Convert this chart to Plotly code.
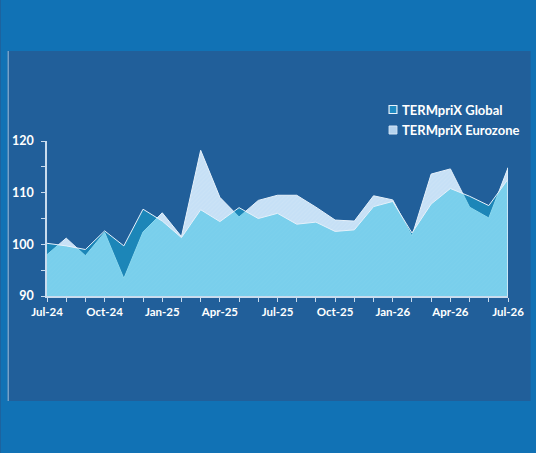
import plotly.graph_objects as go

months = ["Jul-24", "Aug-24", "Sep-24", "Oct-24", "Nov-24", "Dec-24",
          "Jan-25", "Feb-25", "Mar-25", "Apr-25", "May-25", "Jun-25",
          "Jul-25", "Aug-25", "Sep-25", "Oct-25", "Nov-25", "Dec-25",
          "Jan-26", "Feb-26", "Mar-26", "Apr-26", "May-26", "Jun-26",
          "Jul-26"]
global_vals = [100.2, 99.7, 99.0, 102.6, 99.7, 106.8,
               104.5, 101.3, 106.7, 104.4, 107.1, 105.0,
               106.0, 103.9, 104.3, 102.5, 102.8, 107.3,
               108.3, 102.2, 107.8, 110.8, 109.3, 107.5,
               112.6]
euro_vals = [98.0, 101.2, 97.8, 102.3, 93.4, 102.4,
             106.1, 101.5, 118.2, 109.1, 105.3, 108.5,
             109.5, 109.5, 107.2, 104.7, 104.5, 109.4,
             108.6, 101.6, 113.6, 114.6, 107.2, 105.1,
             114.8]
y_ticks = [90, 100, 110, 120]
y_minor = [95, 105, 115]
series_names = ["TERMpriX Global", "TERMpriX Eurozone"]

BAND = "#1172b5"
PANEL = "#215f9a"
PALE = "#c6e0f6"
GLOBAL_FILL = "rgba(22,184,222,0.44)"
EDGE = "#e6f1fb"
AXIS = "#c9dcee"
FONT = "Lato"

W, H = 536, 453
L, R, T, B = 42, 25, 141, 157
pw, ph = W - L - R, H - T - B


def px(x):
    return (x - L) / pw


def py(y):
    return (H - B - y) / ph


fig = go.Figure()

fig.add_trace(go.Scatter(
    x=months, y=euro_vals, name=series_names[1], mode="lines",
    line=dict(color=EDGE, width=1),
    fill="tozeroy", fillcolor=PALE,
    fillpattern=dict(shape="/", size=3, solidity=0.3,
                     bgcolor=PALE, fgcolor="#cde4f7", fillmode="replace"),
    showlegend=False, hoverinfo="skip"))

fig.add_trace(go.Scatter(
    x=months, y=global_vals, name=series_names[0], mode="lines",
    line=dict(color=EDGE, width=1),
    fill="tozeroy", fillcolor=GLOBAL_FILL,
    showlegend=False, hoverinfo="skip"))

shapes = [
    # top and bottom bands
    dict(type="rect", xref="paper", yref="paper", x0=px(-5), x1=px(W + 5),
         y0=py(51), y1=py(-5), fillcolor=BAND, line_width=0, layer="below"),
    dict(type="rect", xref="paper", yref="paper", x0=px(-5), x1=px(W + 5),
         y0=py(H + 5), y1=py(401), fillcolor=BAND, line_width=0, layer="below"),
    dict(type="rect", xref="paper", yref="paper", x0=px(-5), x1=px(2),
         y0=py(401), y1=py(51), fillcolor=BAND, line_width=0, layer="below"),
    dict(type="rect", xref="paper", yref="paper", x0=px(534), x1=px(W + 5),
         y0=py(401), y1=py(51), fillcolor=BAND, line_width=0, layer="below"),
    dict(type="line", xref="paper", yref="paper", x0=px(2.5), x1=px(2.5),
         y0=py(401), y1=py(51), line=dict(color="#9fc0de", width=1), layer="below"),
    # right edge of areas
    dict(type="line", xref="x", yref="y", x0=len(months) - 1, x1=len(months) - 1,
         y0=y_ticks[0], y1=max(global_vals[-1], euro_vals[-1]),
         line=dict(color=EDGE, width=1.5)),
    # legend swatches
    dict(type="rect", xref="paper", yref="paper", x0=px(390), x1=px(398),
         y0=py(113.5), y1=py(105.5), fillcolor="#1f8ac2",
         line=dict(color="#e8f3fc", width=1.2)),
    dict(type="rect", xref="paper", yref="paper", x0=px(390), x1=px(398),
         y0=py(134), y1=py(126), fillcolor="#b5d3ee",
         line=dict(color="#d5e6f6", width=1)),
]

annotations = [
    dict(xref="paper", yref="paper", x=px(401), y=py(109.5), xanchor="left",
         yanchor="middle", text="<b>" + series_names[0] + "</b>", showarrow=False,
         font=dict(family=FONT, size=13, color="white")),
    dict(xref="paper", yref="paper", x=px(401), y=py(130), xanchor="left",
         yanchor="middle", text="<b>" + series_names[1] + "</b>", showarrow=False,
         font=dict(family=FONT, size=13, color="white")),
]

tick_text = [m if i % 3 == 0 else "" for i, m in enumerate(months)]

fig.update_layout(
    width=W, height=H,
    margin=dict(l=L, r=R, t=T, b=B),
    paper_bgcolor=PANEL, plot_bgcolor="rgba(0,0,0,0)",
    showlegend=False,
    shapes=shapes, annotations=annotations,
    xaxis=dict(type="category", range=[0, len(months) - 1],
               tickmode="array", tickvals=months, ticktext=tick_text,
               ticks="outside", ticklen=4, tickcolor=AXIS, tickwidth=1,
               showline=True, linecolor=AXIS, linewidth=1.5,
               showgrid=False, zeroline=False,
               tickfont=dict(family=FONT, size=11.5, color="white", weight="bold")),
    yaxis=dict(range=[y_ticks[0], y_ticks[-1]],
               tickmode="array", tickvals=y_ticks,
               ticks="outside", ticklen=4, tickcolor=AXIS, tickwidth=1,
               ticklabelstandoff=5,
               minor=dict(tickmode="array", tickvals=y_minor, ticks="outside",
                          ticklen=4, tickcolor=AXIS, tickwidth=1),
               showline=True, linecolor=AXIS, linewidth=1.5,
               showgrid=False, zeroline=False,
               tickfont=dict(family=FONT, size=12.5, color="white", weight="bold")),
)

fig.write_html("out.html", config={"displayModeBar": False},
               post_script="document.body.style.margin='0';")
